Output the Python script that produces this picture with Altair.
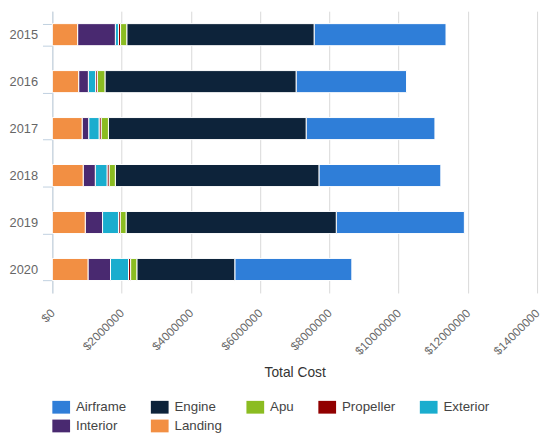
import altair as alt
import pandas as pd

years = ["2015", "2016", "2017", "2018", "2019", "2020"]
series = ["Airframe", "Engine", "Apu", "Propeller", "Exterior", "Interior", "Landing"]
colors = ["#2f7ed8", "#0d233a", "#8bbc21", "#910000", "#1aadce", "#492970", "#f28f43"]

airframe = [3810000, 3190000, 3720000, 3520000, 3700000, 3380000]
engine = [5410000, 5520000, 5710000, 5880000, 6070000, 2830000]
apu = [180000, 220000, 210000, 180000, 170000, 180000]
propeller = [60000, 50000, 60000, 60000, 50000, 60000]
exterior = [90000, 210000, 300000, 340000, 460000, 520000]
interior = [1090000, 280000, 190000, 350000, 500000, 650000]
landing = [730000, 760000, 860000, 890000, 950000, 1030000]

x_ticks = [0, 2000000, 4000000, 6000000, 8000000, 10000000, 12000000, 14000000]

values = {
    "Airframe": airframe,
    "Engine": engine,
    "Apu": apu,
    "Propeller": propeller,
    "Exterior": exterior,
    "Interior": interior,
    "Landing": landing,
}
# stacking order left to right: reverse of legend order
stack_order = {s: len(series) - 1 - i for i, s in enumerate(series)}

rows = []
for s in series:
    for y, v in zip(years, values[s]):
        rows.append({"year": y, "series": s, "cost": v, "stack": stack_order[s]})
df = pd.DataFrame(rows)

FONT = "Liberation Sans"

chart = (
    alt.Chart(df)
    .mark_bar(stroke="white", strokeWidth=1)
    .encode(
        x=alt.X(
            "cost:Q",
            stack="zero",
            scale=alt.Scale(domain=[0, 14000000], nice=False),
            title="Total Cost",
            axis=alt.Axis(
                values=x_ticks,
                labelExpr="'$' + datum.value",
                labelAngle=-45,
                labelAlign="right",
                labelBaseline="middle",
                labelPadding=18,
                labelOffset=0,
                labelFontSize=12,
                labelColor="#666666",
                labelFlush=False,
                labelOverlap=False,
                labelBound=False,
                ticks=False,
                tickSize=0,
                domain=False,
                grid=True,
                gridColor="#d8d8d8",
                gridWidth=1,
                titleFontSize=14,
                titleColor="#333333",
                titleFontWeight="normal",
                titleY=85,
                titleBaseline="alphabetic",
            ),
        ),
        y=alt.Y(
            "year:N",
            sort=years,
            scale=alt.Scale(paddingInner=0.53, paddingOuter=0.265),
            title=None,
            axis=alt.Axis(
                tickBand="extent",
                tickSize=10,
                tickColor="#C0D0E0",
                tickWidth=1,
                domainColor="#C0D0E0",
                domainWidth=1,
                labelPadding=5,
                labelFontSize=13,
                labelColor="#666666",
                minExtent=40,
                maxExtent=40,
                grid=False,
            ),
        ),
        color=alt.Color(
            "series:N",
            scale=alt.Scale(domain=series, range=colors),
            legend=alt.Legend(
                orient="none",
                legendX=0,
                legendY=393,
                direction="horizontal",
                columns=5,
                gridAlign="none",
                symbolType="M-1,-0.72H1V0.72H-1Z",
                symbolSize=324,
                symbolStrokeWidth=0,
                labelFontSize=13.5,
                labelColor="#444444",
                columnPadding=24,
                rowPadding=3,
                labelOffset=6,
                title=None,
                padding=0,
            ),
        ),
        order=alt.Order("stack:Q", sort="ascending"),
    )
    .properties(
        width=492,
        height=286,
        padding={"left": 45, "top": 0, "right": 5, "bottom": 145},
        autosize=alt.AutoSizeParams(type="none"),
    )
    .configure(font=FONT)
    .configure_view(stroke=None)
)

chart.save("out.html", embed_options={"renderer": "svg", "actions": False})
